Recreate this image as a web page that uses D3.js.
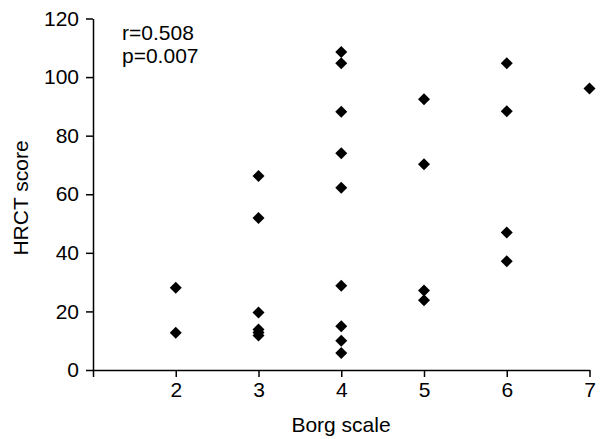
<!DOCTYPE html>
<html><head><meta charset="utf-8">
<script src="https://cdn.jsdelivr.net/npm/d3@7"></script>
<style>body{margin:0;background:#fff}svg{display:block}text{font-family:"Liberation Sans",Arial,sans-serif;fill:#000}</style>
</head><body><svg id="c" width="601" height="439"></svg>
<script>
const borg = [2,2,3,3,3,3,3,3,4,4,4,4,4,4,4,4,4,5,5,5,5,6,6,6,6,7];
const hrct = [28.1,12.7,66.2,51.9,19.6,13.8,12.8,11.8,108.6,104.7,88.2,74,62.2,28.8,14.9,10,5.8,92.4,70.2,27.1,23.8,104.7,88.3,46.9,37.1,96.1];
const xTicks = [1,2,3,4,5,6,7];
const xTickLabels = ["","2","3","4","5","6","7"];
const yTicks = [0,20,40,60,80,100,120];
const stats = ["r=0.508","p=0.007"];

const svg = d3.select("#c");
const x = d3.scaleLinear().domain([1,7]).range([93,589.5]);
const y = d3.scaleLinear().domain([0,120]).range([370,18.5]);
const fs = 21;

const xa = svg.append("g").attr("transform","translate(0,370)")
  .call(d3.axisBottom(x).tickValues(xTicks).tickFormat((d,i)=>xTickLabels[i]).tickSize(7).tickSizeOuter(0).tickPadding(5));
const ya = svg.append("g").attr("transform","translate(93,0)")
  .call(d3.axisLeft(y).tickValues(yTicks).tickSize(7).tickSizeOuter(0).tickPadding(7));
[xa,ya].forEach(a=>{
  a.selectAll("path,line").attr("stroke","#000").attr("stroke-width",1.5);
  a.selectAll("text").style("font-size",fs+"px").style("font-family",'"Liberation Sans",Arial,sans-serif').attr("fill","#000");
});

svg.append("text").attr("x",341).attr("y",432).attr("text-anchor","middle").style("font-size",fs+"px").text("Borg scale");
svg.append("text").attr("transform","translate(28,198) rotate(-90)").attr("text-anchor","middle").style("font-size",fs+"px").text("HRCT score");

svg.selectAll(".st").data(stats).enter().append("text")
  .attr("x",122).attr("y",(d,i)=>40+i*23).style("font-size",fs+"px").text(d=>d);

const sym = d3.symbol().type(d3.symbolSquare).size(72);
svg.selectAll(".pt").data(borg.map((b,i)=>[b,hrct[i]])).enter().append("path")
  .attr("d",sym).attr("fill","#000")
  .attr("transform",d=>`translate(${x(d[0])},${y(d[1])}) rotate(45)`);
</script></body></html>
